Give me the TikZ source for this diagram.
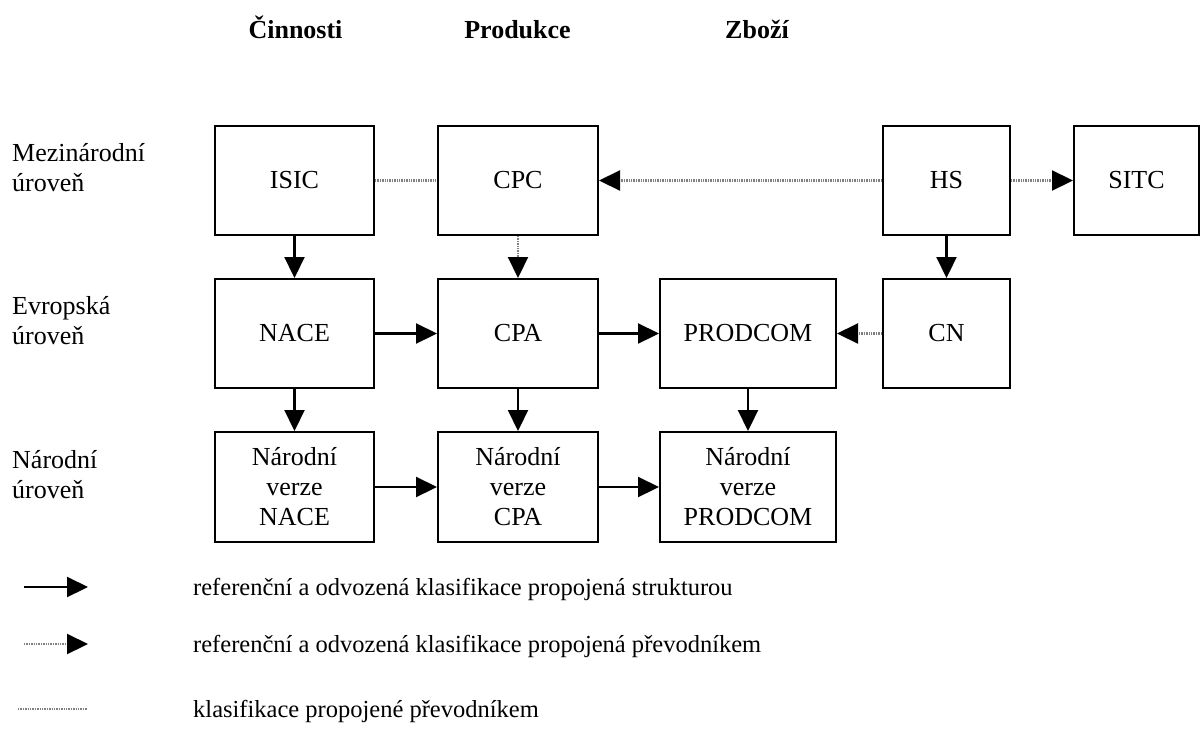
\documentclass[tikz,border=0pt]{standalone}
\usepackage{fontspec}
\setmainfont{Liberation Serif}
\usetikzlibrary{arrows.meta}
\begin{document}
\begin{tikzpicture}[x=1pt,y=-1pt,
  box/.style={draw, line width=2pt, inner sep=0pt, minimum height=109pt,
    align=center, font=\fontsize{26}{30}\selectfont},
  rowlabel/.style={anchor=west, align=left, inner sep=0pt, font=\fontsize{26}{30}\selectfont},
  header/.style={anchor=base, inner sep=0pt, font=\fontsize{26}{30}\selectfont\bfseries},
  legtext/.style={anchor=west, inner sep=0pt, font=\fontsize{24.5}{28}\selectfont},
  tip/.style={-{Triangle[length=21pt,width=20pt,black]}},
  solidarrow/.style={line width=2.2pt, black, tip},
  dotline/.style={line width=2.2pt, black!50, dash pattern=on 1.4pt off 1pt},
  dotarrow/.style={dotline, tip}]
\useasboundingbox (0,0) rectangle (1201,734);

% headers
\node[header] (h1) at (295.5,38) {Činnosti};
\node[header] (h2) at (517.5,38) {Produkce};
\node[header] (h3) at (757,38) {Zboží};

% row labels
\node[rowlabel] (r1) at (12,168) {Mezinárodní\\úroveň};
\node[rowlabel] (r2) at (12,321) {Evropská\\úroveň};
\node[rowlabel] (r3) at (12,475) {Národní\\úroveň};

% row 1
\node[box, minimum width=159pt] (isic) at (294.5,180.5) {ISIC};
\node[box, minimum width=160pt] (cpc) at (518,180.5) {CPC};
\node[box, minimum width=127pt] (hs) at (946.5,180.5) {HS};
\node[box, minimum width=125pt] (sitc) at (1136.5,180.5) {SITC};

% row 2
\node[box, minimum width=159pt] (nace) at (294.5,333.5) {NACE};
\node[box, minimum width=160pt] (cpa) at (518,333.5) {CPA};
\node[box, minimum width=176pt] (prodcom) at (748,333.5) {PRODCOM};
\node[box, minimum width=127pt] (cn) at (946.5,333.5) {CN};

% row 3
\node[box, minimum width=159pt, minimum height=110pt] (nnace) at (294.5,487) {Národní\\verze\\NACE};
\node[box, minimum width=160pt, minimum height=110pt] (ncpa) at (518,487) {Národní\\verze\\CPA};
\node[box, minimum width=176pt, minimum height=110pt] (nprodcom) at (748,487) {Národní\\verze\\PRODCOM};

% connectors
\draw[dotline] (isic) -- (cpc);
\draw[dotarrow] (hs) -- (cpc);
\draw[dotarrow] (hs) -- (sitc);
\draw[solidarrow] (isic) -- (nace);
\draw[dotarrow] (cpc) -- (cpa);
\draw[solidarrow] (hs) -- (cn);
\draw[solidarrow] (nace) -- (cpa);
\draw[solidarrow] (cpa) -- (prodcom);
\draw[dotarrow] (cn) -- (prodcom);
\draw[solidarrow] (nace) -- (nnace);
\draw[solidarrow] (cpa) -- (ncpa);
\draw[solidarrow] (prodcom) -- (nprodcom);
\draw[solidarrow] (nnace) -- (ncpa);
\draw[solidarrow] (ncpa) -- (nprodcom);

% legend
\coordinate (l1a) at (24,587);
\coordinate (l1b) at (88,587);
\coordinate (l2a) at (24,644);
\coordinate (l2b) at (88,644);
\coordinate (l3a) at (18,709);
\coordinate (l3b) at (87,709);
\draw[solidarrow] (l1a) -- (l1b);
\draw[dotarrow] (l2a) -- (l2b);
\draw[dotline] (l3a) -- (l3b);
\node[legtext] (t1) at (193,589) {referenční a odvozená klasifikace propojená strukturou};
\node[legtext] (t2) at (193,646) {referenční a odvozená klasifikace propojená převodníkem};
\node[legtext] (t3) at (193,711) {klasifikace propojené převodníkem};
\end{tikzpicture}
\end{document}
